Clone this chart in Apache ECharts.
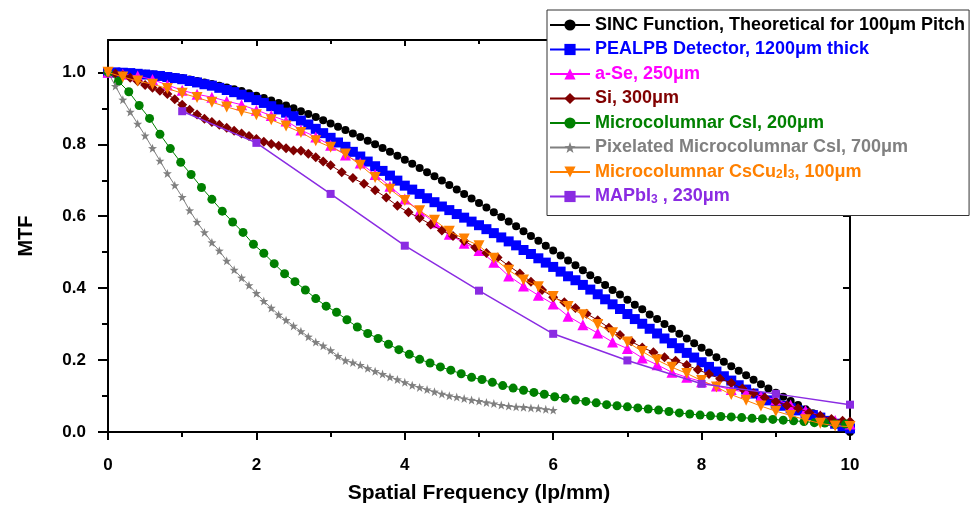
<!DOCTYPE html>
<html>
<head>
<meta charset="utf-8">
<script src="https://cdn.jsdelivr.net/npm/echarts@6/dist/echarts.min.js"></script>
<style>
html,body{margin:0;padding:0;background:#fff;}
#chart{width:973px;height:510px;}
</style>
</head>
<body>
<div id="chart"></div>
<script>
// ---------- data ----------
const seriesNames = [
  'SINC Function, Theoretical for 100\u03bcm Pitch',
  'PEALPB Detector, 1200\u03bcm thick',
  'a-Se, 250\u03bcm',
  'Si, 300\u03bcm',
  'Microcolumnar CsI, 200\u03bcm',
  'Pixelated Microcolumnar CsI, 700\u03bcm',
  'Microcolumnar CsCu2I3, 100\u03bcm',
  'MAPbI3 , 230\u03bcm'
];
const seriesColors = ['#000000','#0000ff','#ff00ff','#800000','#008000','#808080','#ff8000','#8a2be2'];

const xTicks = [0, 2, 4, 6, 8, 10];
const yTicks = [0.0, 0.2, 0.4, 0.6, 0.8, 1.0];
const yMinorTicks = [0.1, 0.3, 0.5, 0.7, 0.9];

const freq01 = [0,0.1,0.2,0.3,0.4,0.5,0.6,0.7,0.8,0.9,1,1.1,1.2,1.3,1.4,1.5,1.6,1.7,1.8,1.9,2,2.1,2.2,2.3,2.4,2.5,2.6,2.7,2.8,2.9,3,3.1,3.2,3.3,3.4,3.5,3.6,3.7,3.8,3.9,4,4.1,4.2,4.3,4.4,4.5,4.6,4.7,4.8,4.9,5,5.1,5.2,5.3,5.4,5.5,5.6,5.7,5.8,5.9,6,6.1,6.2,6.3,6.4,6.5,6.6,6.7,6.8,6.9,7,7.1,7.2,7.3,7.4,7.5,7.6,7.7,7.8,7.9,8,8.1,8.2,8.3,8.4,8.5,8.6,8.7,8.8,8.9,9,9.1,9.2,9.3,9.4,9.5,9.6,9.7,9.8,9.9,10];

const freq02 = [0,0.2,0.4,0.6,0.8,1,1.2,1.4,1.6,1.8,2,2.2,2.4,2.6,2.8,3,3.2,3.4,3.6,3.8,4,4.2,4.4,4.6,4.8,5,5.2,5.4,5.6,5.8,6,6.2,6.4,6.6,6.8,7,7.2,7.4,7.6,7.8,8,8.2,8.4,8.6,8.8,9,9.2,9.4,9.6,9.8,10];

const freqCsI = [0,0.14,0.28,0.42,0.56,0.7,0.84,0.98,1.12,1.26,1.4,1.54,1.68,1.82,1.96,2.1,2.24,2.38,2.52,2.66,2.8,2.94,3.08,3.22,3.36,3.5,3.64,3.78,3.92,4.06,4.2,4.34,4.48,4.62,4.76,4.9,5.04,5.18,5.32,5.46,5.6,5.74,5.88,6.02,6.16,6.3,6.44,6.58,6.72,6.86,7,7.14,7.28,7.42,7.56,7.7,7.84,7.98,8.12,8.26,8.4,8.54,8.68,8.82,8.96,9.1,9.24,9.38,9.52,9.66,9.8,9.94];

const freqSi = [0,0.1,0.2,0.3,0.4,0.5,0.6,0.7,0.8,0.9,1,1.1,1.2,1.3,1.4,1.5,1.6,1.7,1.8,1.9,2,2.1,2.2,2.3,2.4,2.5,2.6,2.7,2.8,2.9,3,3.15,3.3,3.45,3.6,3.75,3.9,4.05,4.2,4.35,4.5,4.65,4.8,4.95,5.1,5.25,5.4,5.55,5.7,5.85,6,6.15,6.3,6.45,6.6,6.75,6.9,7.05,7.2,7.35,7.5,7.65,7.8,7.95,8.1,8.25,8.4,8.55,8.7,8.85,9,9.15,9.3,9.45,9.6,9.75,9.9,10];

const freqMAP = [1,2,3,4,5,6,7,8,9,10];

const sincMTF = [1.000,1.000,0.999,0.999,0.997,0.996,0.994,0.992,0.990,0.987,
0.984,0.980,0.976,0.972,0.968,0.963,0.958,0.953,0.948,0.942,
0.935,0.929,0.922,0.915,0.908,0.900,0.892,0.884,0.876,0.867,
0.858,0.849,0.840,0.830,0.820,0.810,0.800,0.790,0.779,0.768,
0.757,0.746,0.734,0.722,0.711,0.699,0.687,0.674,0.662,0.649,
0.637,0.624,0.611,0.598,0.585,0.572,0.558,0.545,0.532,0.518,
0.505,0.491,0.477,0.464,0.450,0.436,0.423,0.409,0.395,0.382,
0.368,0.354,0.341,0.327,0.314,0.300,0.287,0.273,0.260,0.247,
0.234,0.221,0.208,0.195,0.183,0.170,0.158,0.145,0.133,0.121,
0.109,0.098,0.086,0.075,0.063,0.052,0.042,0.031,0.020,0.010,0.000];

const pealpbMTF = [1.000,1.000,0.999,0.998,0.996,0.994,0.992,0.990,0.987,0.984,
0.981,0.976,0.972,0.967,0.963,0.957,0.951,0.945,0.938,0.931,
0.923,0.915,0.906,0.897,0.888,0.878,0.866,0.855,0.843,0.831,
0.818,0.805,0.793,0.779,0.766,0.752,0.739,0.726,0.713,0.699,
0.685,0.674,0.662,0.650,0.639,0.627,0.617,0.606,0.596,0.585,
0.575,0.564,0.553,0.541,0.530,0.519,0.506,0.495,0.483,0.471,
0.459,0.446,0.433,0.422,0.409,0.396,0.383,0.369,0.355,0.342,
0.328,0.314,0.301,0.287,0.274,0.260,0.247,0.233,0.220,0.207,
0.194,0.181,0.168,0.155,0.143,0.130,0.118,0.107,0.098,0.088,
0.079,0.073,0.066,0.060,0.053,0.047,0.040,0.031,0.023,0.016,0.010];

const aSeMTF = [1.000,0.995,0.990,0.980,0.965,0.950,0.939,0.931,0.920,0.910,
0.895,0.880,0.865,0.840,0.820,0.797,0.770,0.748,0.716,0.683,
0.648,0.614,0.582,0.550,0.525,0.505,0.472,0.434,0.406,0.380,
0.356,0.322,0.298,0.275,0.250,0.232,0.206,0.187,0.166,0.152,
0.140,0.128,0.118,0.110,0.100,0.090,0.075,0.060,0.045,0.032,0.022];

const siMTF = [1.000,0.997,0.992,0.985,0.975,0.965,0.957,0.949,0.940,0.925,
0.910,0.896,0.883,0.871,0.862,0.854,0.846,0.838,0.830,0.823,
0.815,0.807,0.801,0.796,0.789,0.783,0.782,0.774,0.764,0.752,
0.742,0.722,0.706,0.690,0.672,0.652,0.629,0.611,0.595,0.577,
0.560,0.545,0.531,0.513,0.498,0.485,0.462,0.441,0.418,0.395,
0.375,0.361,0.345,0.329,0.311,0.290,0.270,0.252,0.235,0.222,
0.208,0.198,0.186,0.173,0.161,0.148,0.136,0.121,0.108,0.096,
0.085,0.074,0.066,0.054,0.045,0.036,0.031,0.029];

const csiMTF = [1.000,0.975,0.946,0.908,0.872,0.828,0.788,0.750,0.716,0.680,
0.647,0.614,0.584,0.555,0.522,0.497,0.468,0.440,0.418,0.395,
0.371,0.350,0.333,0.312,0.292,0.274,0.260,0.244,0.229,0.216,
0.202,0.192,0.181,0.172,0.162,0.152,0.146,0.138,0.129,0.122,
0.116,0.110,0.105,0.098,0.094,0.089,0.085,0.081,0.076,0.073,
0.070,0.067,0.064,0.061,0.057,0.053,0.050,0.047,0.045,0.043,
0.042,0.040,0.038,0.037,0.035,0.033,0.031,0.029,0.026,0.025,
0.022,0.022];

const pixCsIMTF = [1.000,0.962,0.924,0.890,0.857,0.824,0.789,0.754,0.719,0.686,
0.653,0.616,0.584,0.555,0.527,0.504,0.476,0.451,0.429,0.408,
0.386,0.364,0.345,0.326,0.311,0.295,0.280,0.265,0.250,0.240,
0.227,0.211,0.199,0.193,0.186,0.177,0.169,0.161,0.153,0.146,
0.138,0.130,0.124,0.118,0.112,0.106,0.101,0.097,0.093,0.089,
0.086,0.082,0.079,0.075,0.072,0.070,0.069,0.067,0.066,0.063,0.061];

const csCuIMTF = [1.000,0.987,0.976,0.967,0.955,0.942,0.930,0.917,0.904,0.892,
0.882,0.868,0.851,0.833,0.810,0.792,0.773,0.742,0.708,0.675,
0.644,0.615,0.589,0.558,0.537,0.518,0.483,0.450,0.423,0.404,
0.377,0.349,0.326,0.299,0.276,0.250,0.224,0.200,0.180,0.163,
0.143,0.125,0.104,0.088,0.072,0.058,0.046,0.034,0.024,0.017,0.015];

const mapbiMTF = [0.892,0.804,0.662,0.518,0.393,0.273,0.199,0.134,0.106,0.076];

// ---------- chart ----------
const FONT = '"Liberation Sans", Arial, sans-serif';
const STAR = 'path://M0,-10L2.35,-3.24L9.51,-3.09L3.8,1.24L5.88,8.09L0,4L-5.88,8.09L-3.8,1.24L-9.51,-3.09L-2.35,-3.24Z';

function pairs(xs, ys) { return ys.map((y, i) => [xs[i], y]); }

const seriesDefs = [
  { x: freq01, y: sincMTF, symbol: 'circle', size: 8 },
  { x: freq01, y: pealpbMTF, symbol: 'rect', size: 10 },
  { x: freq02, y: aSeMTF, symbol: 'triangle', size: 11 },
  { x: freqSi, y: siMTF, symbol: 'diamond', size: 10 },
  { x: freqCsI, y: csiMTF, symbol: 'circle', size: 9 },
  { x: freq01, y: pixCsIMTF, symbol: STAR, size: 9 },
  { x: freq02, y: csCuIMTF, symbol: 'triangle', size: 11, rotate: 180 },
  { x: freqMAP, y: mapbiMTF, symbol: 'rect', size: 8, lw: 1.5 }
];

const series = seriesDefs.map((d, i) => ({
  name: seriesNames[i],
  type: 'line',
  data: pairs(d.x, d.y),
  symbol: d.symbol,
  symbolSize: d.size,
  symbolRotate: d.rotate || 0,
  showSymbol: true,
  showAllSymbol: true,
  clip: false,
  lineStyle: { color: seriesColors[i], width: d.lw || 1 },
  itemStyle: { color: seriesColors[i], borderWidth: 0 },
  emphasis: { disabled: true },
  z: 2 + i
}));

const subStyle = { fontSize: 12, fontWeight: 'bold', fontFamily: FONT, lineHeight: 12, padding: [6, 0, 0, 0] };

const legendData = seriesNames.map((n, i) => ({
  name: n,
  textStyle: { color: seriesColors[i], rich: { s: Object.assign({ color: seriesColors[i] }, subStyle) } }
}));

const axisLineStyle = { color: '#000', width: 2 };

function minorAxis(pos, inside, len) {
  return {
    type: 'value', min: 0, max: 1.09, position: pos, offset: 0,
    axisLine: { show: false },
    axisTick: { show: true, inside: inside, length: len, lineStyle: axisLineStyle, customValues: yMinorTicks },
    axisLabel: { show: false, customValues: yMinorTicks },
    splitLine: { show: false }
  };
}

const option = {
  animation: false,
  backgroundColor: '#ffffff',
  grid: { left: 108, right: 123, top: 40, bottom: 78 },
  legend: {
    orient: 'vertical',
    left: 547,
    top: 10,
    padding: [6, 4, 10, 2],
    itemWidth: 40,
    itemHeight: 14,
    itemGap: 6.5,
    itemTextGap: 5,
    backgroundColor: '#ffffff',
    borderColor: '#333333',
    borderWidth: 1,
    z: 20,
    data: legendData,
    formatter: function (name) {
      if (name.indexOf('CsCu2I3') >= 0) return name.replace('CsCu2I3', 'CsCu{s|2}I{s|3}');
      if (name.indexOf('MAPbI3') >= 0) return name.replace('MAPbI3', 'MAPbI{s|3}');
      return name;
    },
    textStyle: { fontFamily: FONT, fontWeight: 'bold', fontSize: 18, lineHeight: 18, rich: { s: subStyle } }
  },
  xAxis: [{
    type: 'value', min: 0, max: 10, interval: 2, position: 'bottom',
    axisLine: { show: true, onZero: false, lineStyle: axisLineStyle },
    axisTick: { show: true, length: 8, lineStyle: axisLineStyle },
    minorTick: { show: true, splitNumber: 2, length: 5, lineStyle: axisLineStyle },
    splitLine: { show: false },
    axisLabel: { fontFamily: FONT, fontWeight: 'bold', fontSize: 17, color: '#000', margin: 25,
      formatter: v => (xTicks.indexOf(v) >= 0 ? String(v) : '') },
    name: 'Spatial Frequency (lp/mm)', nameLocation: 'middle', nameGap: 51,
    nameTextStyle: { fontFamily: FONT, fontWeight: 'bold', fontSize: 21, color: '#000' }
  }, {
    type: 'value', min: 0, max: 10, interval: 2, position: 'top',
    axisLine: { show: true, onZero: false, lineStyle: axisLineStyle },
    axisTick: { show: true, inside: true, length: 6, lineStyle: axisLineStyle },
    minorTick: { show: true, splitNumber: 2, length: 4, lineStyle: axisLineStyle },
    splitLine: { show: false },
    axisLabel: { show: false }
  }],
  yAxis: [{
    type: 'value', min: 0, max: 1.09, position: 'left', offset: 0,
    axisLine: { show: true, onZero: false, lineStyle: axisLineStyle },
    axisTick: { show: true, length: 10, lineStyle: axisLineStyle, customValues: yTicks },
    splitLine: { show: false },
    axisLabel: { fontFamily: FONT, fontWeight: 'bold', fontSize: 17, color: '#000', margin: 22,
      customValues: yTicks, formatter: v => v.toFixed(1) },
    name: 'MTF', nameLocation: 'middle', nameGap: 72,
    nameTextStyle: { fontFamily: FONT, fontWeight: 'bold', fontSize: 20, color: '#000' }
  },
  minorAxis('left', false, 6),
  {
    type: 'value', min: 0, max: 1.09, position: 'right', offset: 0,
    axisLine: { show: true, onZero: false, lineStyle: axisLineStyle },
    axisTick: { show: true, inside: true, length: 7, lineStyle: axisLineStyle, customValues: yTicks },
    splitLine: { show: false },
    axisLabel: { show: false, customValues: yTicks }
  },
  minorAxis('right', true, 5)
  ],
  series: series
};

const chart = echarts.init(document.getElementById('chart'), null, { renderer: 'canvas' });
chart.setOption(option);
</script>
</body>
</html>
